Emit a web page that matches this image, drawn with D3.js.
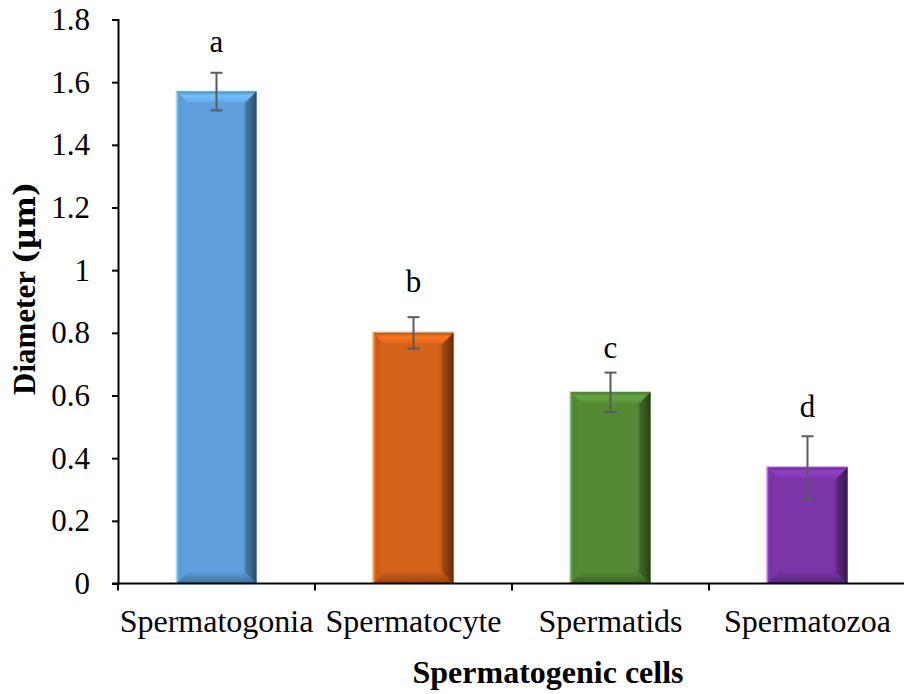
<!DOCTYPE html>
<html>
<head>
<meta charset="utf-8">
<script src="https://cdn.jsdelivr.net/npm/d3@7"></script>
<style>
  html, body { margin: 0; padding: 0; background: #fff; }
  svg { display: block; }
</style>
</head>
<body>
<svg id="chart" width="904" height="694"></svg>
<script>
// Cell types and their mean diameters (µm)
const categories = ["Spermatogonia", "Spermatocyte", "Spermatids", "Spermatozoa"];
const diameters = [1.57, 0.80, 0.61, 0.37];
const errors = [0.06, 0.05, 0.063, 0.10];
// significance letters and the height (in µm) at which each one sits
const letters = ["a", "b", "c", "d"];
const letterHeights = [1.695, 0.93, 0.72, 0.532];
const yTicks = [0, 0.2, 0.4, 0.6, 0.8, 1, 1.2, 1.4, 1.6, 1.8];
const barColors = ["#5fa0dc", "#d3621a", "#548a36", "#7a35a8"];

const FONT = "Liberation Serif, Times New Roman, Times, serif";

const svg = d3.select("#chart").attr("font-family", FONT);
const margin = { left: 118, right: -2, top: 19.5, bottom: 110.5 };
const W = 904, H = 694;

const x = d3.scaleBand().domain(categories)
  .range([margin.left, W - margin.right]).paddingInner(0).paddingOuter(0);
const y = d3.scaleLinear().domain([0, 1.8]).range([H - margin.bottom, margin.top]);

const defs = svg.append("defs");
barColors.forEach((c, i) => {
  const base = d3.color(c);
  const g = defs.append("linearGradient").attr("id", "body" + i)
    .attr("x1", 0).attr("x2", 1).attr("y1", 0).attr("y2", 0);
  g.append("stop").attr("offset", "0%").attr("stop-color", base.brighter(0.5));
  g.append("stop").attr("offset", "4%").attr("stop-color", base.darker(0.15));
  g.append("stop").attr("offset", "10%").attr("stop-color", base);
  g.append("stop").attr("offset", "82%").attr("stop-color", base);
  g.append("stop").attr("offset", "92%").attr("stop-color", base.darker(0.9));
  g.append("stop").attr("offset", "100%").attr("stop-color", base.darker(2.8));
  const t = defs.append("linearGradient").attr("id", "top" + i)
    .attr("x1", 0).attr("x2", 0).attr("y1", 0).attr("y2", 1);
  t.append("stop").attr("offset", "0%").attr("stop-color", base.darker(0.4));
  t.append("stop").attr("offset", "35%").attr("stop-color", base.brighter(0.5));
  t.append("stop").attr("offset", "100%").attr("stop-color", base.brighter(0.15));
  const b = defs.append("linearGradient").attr("id", "bot" + i)
    .attr("x1", 0).attr("x2", 0).attr("y1", 0).attr("y2", 1);
  b.append("stop").attr("offset", "0%").attr("stop-color", base.darker(0.1));
  b.append("stop").attr("offset", "100%").attr("stop-color", base.darker(1.2));
});

const barW = 80;
const bev = 11;
const bars = svg.append("g");
categories.forEach((cat, i) => {
  const cx = x(cat) + x.bandwidth() / 2;
  const x0 = cx - barW / 2, x1 = cx + barW / 2;
  const y0 = y(diameters[i]), y1 = y(0);
  const g = bars.append("g");
  // soft halo around the bar
  g.append("rect").attr("x", x0 - 1.5).attr("y", y0 - 1.5)
    .attr("width", barW + 2).attr("height", y1 - y0 + 1.5)
    .attr("fill", d3.color(barColors[i]).brighter(1.4)).attr("opacity", 0.55);
  g.append("rect").attr("x", x0).attr("y", y0).attr("width", barW).attr("height", y1 - y0)
    .attr("fill", `url(#body${i})`);
  // top bevel
  g.append("path")
    .attr("d", `M${x0},${y0}L${x1},${y0}L${x1 - bev},${y0 + bev}L${x0 + bev},${y0 + bev}Z`)
    .attr("fill", `url(#top${i})`);
  // bottom bevel
  g.append("path")
    .attr("d", `M${x0},${y1}L${x1},${y1}L${x1 - bev},${y1 - bev}L${x0 + bev},${y1 - bev}Z`)
    .attr("fill", `url(#bot${i})`).attr("opacity", 0.85);
  // right bevel shading
  g.append("path")
    .attr("d", `M${x1},${y0}L${x1},${y1}L${x1 - bev},${y1 - bev}L${x1 - bev},${y0 + bev}Z`)
    .attr("fill", d3.color(barColors[i]).darker(1.6)).attr("opacity", 0.45);
});

// error bars
const eb = svg.append("g").attr("stroke", "#5a5a5a").attr("stroke-width", 2);
categories.forEach((cat, i) => {
  const cx = x(cat) + x.bandwidth() / 2;
  const yt = y(diameters[i] + errors[i]), yb = y(diameters[i] - errors[i]);
  eb.append("line").attr("x1", cx).attr("x2", cx).attr("y1", yt).attr("y2", yb);
  eb.append("line").attr("x1", cx - 6).attr("x2", cx + 6).attr("y1", yt).attr("y2", yt);
  eb.append("line").attr("x1", cx - 6).attr("x2", cx + 6).attr("y1", yb).attr("y2", yb);
});

// significance letters
categories.forEach((cat, i) => {
  const cx = x(cat) + x.bandwidth() / 2;
  svg.append("text").attr("x", cx).attr("y", y(letterHeights[i]))
    .attr("text-anchor", "middle").attr("font-size", 31).attr("font-family", FONT)
    .text(letters[i]);
});

// y axis
const yAxis = svg.append("g").attr("transform", `translate(${margin.left},0)`)
  .call(d3.axisLeft(y).tickValues(yTicks).tickSize(6).tickPadding(22)
    .tickFormat(d => d3.format("~g")(d)));
yAxis.attr("font-family", FONT).attr("font-size", 31);
yAxis.select(".domain").attr("stroke", "#000").attr("stroke-width", 2);
yAxis.selectAll(".tick line").attr("stroke", "#000").attr("stroke-width", 2);
yAxis.selectAll(".tick text").attr("fill", "#000");

// x axis with ticks on category boundaries
const xAxisG = svg.append("g").attr("transform", `translate(0,${y(0)})`);
xAxisG.append("line").attr("x1", margin.left - 6).attr("x2", W).attr("y1", 0).attr("y2", 0)
  .attr("stroke", "#000").attr("stroke-width", 2);
categories.forEach(cat => {
  xAxisG.append("line").attr("x1", x(cat)).attr("x2", x(cat)).attr("y1", 0).attr("y2", 7)
    .attr("stroke", "#000").attr("stroke-width", 2);
  xAxisG.append("text").attr("x", x(cat) + x.bandwidth() / 2).attr("y", 48)
    .attr("text-anchor", "middle").attr("font-size", 32).attr("font-family", FONT)
    .text(cat);
});

// axis titles
svg.append("text").attr("x", 548).attr("y", 683)
  .attr("text-anchor", "middle").attr("font-size", 32).attr("font-weight", "bold")
  .attr("font-family", FONT).text("Spermatogenic cells");
const yTitle = svg.append("text").attr("transform", "translate(35,395) rotate(-90)")
  .attr("text-anchor", "start").attr("font-size", 31).attr("font-weight", "bold")
  .attr("font-family", FONT);
yTitle.append("tspan").text("Diameter ");
yTitle.append("tspan").attr("font-family", "DejaVu Serif, serif").attr("font-size", 30).text("(µm)");
</script>
</body>
</html>
